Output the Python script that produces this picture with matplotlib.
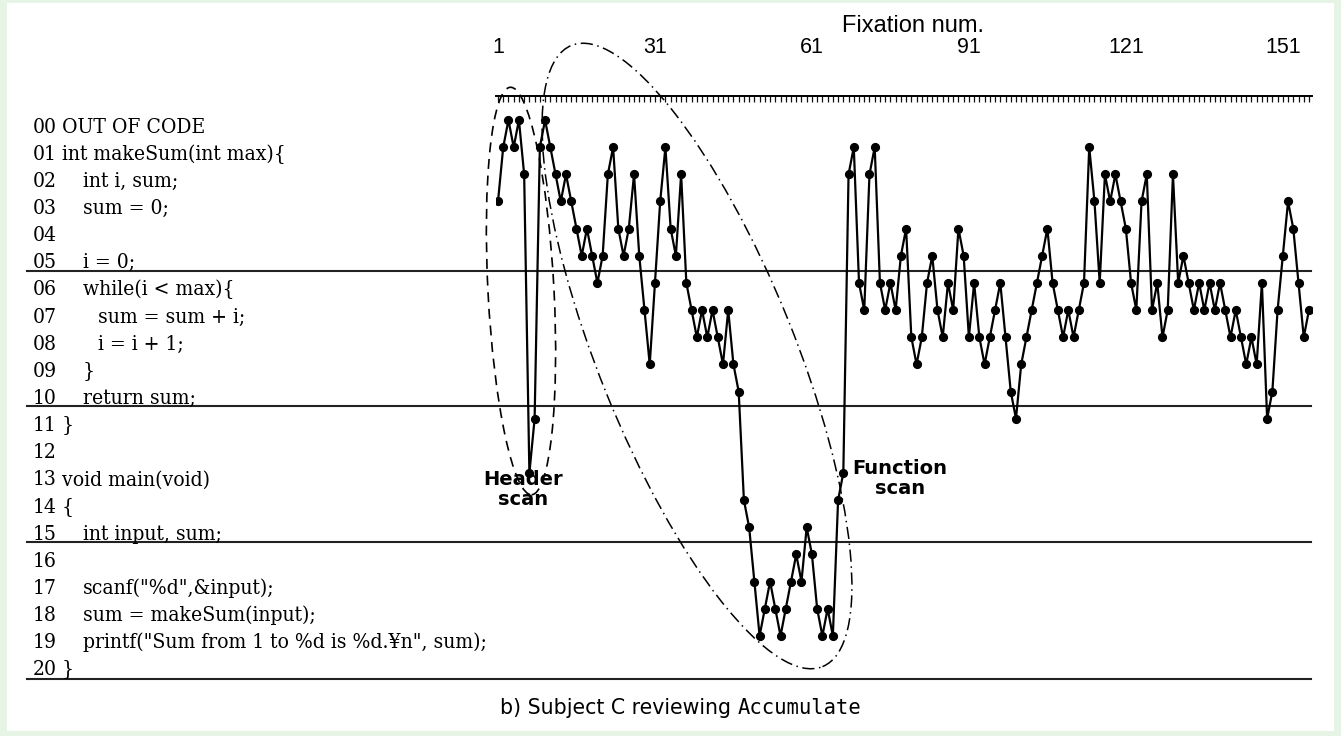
import os
import matplotlib
matplotlib.use("Agg")
import matplotlib.pyplot as plt
from matplotlib import font_manager as fm
from matplotlib.patches import Ellipse, Rectangle
import matplotlib.transforms as mtrans

# ---------------- data ----------------
fixation_lines = [
    3, 1, 0, 1, 0, 2, 13, 11, 1, 0,
    1, 2, 3, 2, 3, 4, 5, 4, 5, 6,
    5, 2, 1, 4, 5, 4, 2, 5, 7, 9,
    6, 3, 1, 4, 5, 2, 6, 7, 8, 7,
    8, 7, 8, 9, 7, 9, 10, 14, 15, 17,
    19, 18, 17, 18, 19, 18, 17, 16, 17, 15,
    16, 18, 19, 18, 19, 14, 13, 2, 1, 6,
    7, 2, 1, 6, 7, 6, 7, 5, 4, 8,
    9, 8, 6, 5, 7, 8, 6, 7, 4, 5,
    8, 6, 8, 9, 8, 7, 6, 8, 10, 11,
    9, 8, 7, 6, 5, 4, 6, 7, 8, 7,
    8, 7, 6, 1, 3, 6, 2, 3, 2, 3,
    4, 6, 7, 3, 2, 7, 6, 8, 7, 2,
    6, 5, 6, 7, 6, 7, 6, 7, 6, 7,
    8, 7, 8, 9, 8, 9, 6, 11, 10, 7,
    5, 3, 4, 6, 8, 7,
]
fixations = list(range(1, len(fixation_lines) + 1))
tick_labels = [1, 31, 61, 91, 121, 151]

code_lines = [
    "OUT OF CODE",
    "int makeSum(int max){",
    "  int i, sum;",
    "  sum = 0;",
    "",
    "  i = 0;",
    "  while(i < max){",
    "    sum = sum + i;",
    "    i = i + 1;",
    "  }",
    "  return sum;",
    "}",
    "",
    "void main(void)",
    "{",
    "  int input, sum;",
    "",
    "  scanf(\"%d\",&input);",
    "  sum = makeSum(input);",
    "  printf(\"Sum from 1 to %d is %d.¥n\", sum);",
    "}",
]
section_breaks = [5.55, 10.55, 15.55, 20.6]

xlabel_text = "Fixation num."
header_label = "Header\nscan"
function_label = "Function\nscan"
caption_text = "b) Subject C reviewing "
caption_code = "Accumulate"

# ---------------- fonts ----------------
def find_font(basename):
    for f in fm.fontManager.ttflist:
        if os.path.basename(f.fname) == basename:
            return f.fname
    return None

serif_path = find_font("DejaVuSerifCondensed.ttf")
if serif_path:
    serif_fp = fm.FontProperties(fname=serif_path)
else:
    serif_fp = fm.FontProperties(family="DejaVu Serif")
sans_family = ["Liberation Sans", "DejaVu Sans"]

# ---------------- figure ----------------
W, H, DPI = 1341, 736, 100
fig = plt.figure(figsize=(W / DPI, H / DPI), dpi=DPI)
fig.patch.set_facecolor("#e6f4e6")
fig.add_artist(Rectangle((0.07, 0.05), 13.27, 7.28, transform=fig.dpi_scale_trans,
                         facecolor="white", edgecolor="none", zorder=-5))

ax = fig.add_axes([495.9 / W, (H - 679.3) / H, 815.7 / W, 583.7 / H])
ax.set_facecolor("none")
ax.plot(fixations, fixation_lines, "-o", color="black", lw=1.6, ms=5.6, zorder=3)
ax.set_xlim(0.6, 156.5)
ax.set_ylim(20.6, -0.9)

for s in ["left", "right", "bottom"]:
    ax.spines[s].set_visible(False)
ax.spines["top"].set_linewidth(1.4)
ax.set_yticks([])
ax.xaxis.tick_top()
ax.set_xticks(tick_labels)
ax.set_xticklabels([str(t) for t in tick_labels], family=sans_family, fontsize=15.5)
ax.set_xticks(fixations, minor=True)
ax.tick_params(axis="x", which="both", direction="in", top=True, bottom=False,
               labeltop=True, labelbottom=False, length=4.5, width=0.9, color="#111111")
ax.tick_params(axis="x", which="major", pad=27)

fig.text(9.13, (H - 31.7) / DPI, xlabel_text, transform=fig.dpi_scale_trans,
         ha="center", va="baseline", family=sans_family, fontsize=17)

# section separators
sep_tr = mtrans.blended_transform_factory(fig.dpi_scale_trans, ax.transData)
for b in section_breaks:
    ax.plot([0.27, 13.11], [b, b], transform=sep_tr, color="#222222", lw=1.5,
            clip_on=False, zorder=2)

# code labels, font size fitted to the reference width of the longest line
renderer = fig.canvas.get_renderer()
ref = code_lines[19].strip()
tmp = fig.text(0, 0, ref, fontproperties=serif_fp, fontsize=10)
w10 = tmp.get_window_extent(renderer).width
tmp.remove()
code_fs = 10 * 404.0 / w10

indent_x = [0.62, 0.83, 0.98]
for k, line in enumerate(code_lines):
    ax.text(0.33, k + 0.46, f"{k:02d}", transform=sep_tr, ha="left", va="baseline",
            fontproperties=serif_fp, fontsize=code_fs, clip_on=False)
    stripped = line.lstrip(" ")
    if stripped:
        level = (len(line) - len(stripped)) // 2
        ax.text(indent_x[level], k + 0.46, stripped, transform=sep_tr, ha="left",
                va="baseline", fontproperties=serif_fp, fontsize=code_fs, clip_on=False)

# scan ellipses
fig.add_artist(Ellipse((5.21, 4.45), 0.66, 4.08, angle=3, transform=fig.dpi_scale_trans,
                       fill=False, edgecolor="black", lw=1.2, ls=(0, (6, 4)), zorder=4))
fig.add_artist(Ellipse((6.97, 3.80), 1.96, 6.70, angle=22, transform=fig.dpi_scale_trans,
                       fill=False, edgecolor="black", lw=1.1, ls=(0, (8, 3, 1, 3)), zorder=4))

fig.text(5.23, 2.465, header_label, transform=fig.dpi_scale_trans, ha="center", va="center",
         family="DejaVu Sans", fontweight="bold", fontsize=14, linespacing=1.1, zorder=5)
fig.text(9.00, 2.575, function_label, transform=fig.dpi_scale_trans, ha="center", va="center",
         family="DejaVu Sans", fontweight="bold", fontsize=14, linespacing=1.1, zorder=5)

# caption
cap = fig.text(5.00, 0.215, caption_text, transform=fig.dpi_scale_trans, ha="left",
               va="baseline", family="DejaVu Sans", fontsize=14.8)
plt.annotate(caption_code, xy=(1, 0), xycoords=cap, xytext=(0, 0),
             textcoords="offset points", ha="left", va="bottom",
             family="DejaVu Sans Mono", fontsize=14.8, annotation_clip=False)

fig.savefig("out.png", dpi=DPI)
